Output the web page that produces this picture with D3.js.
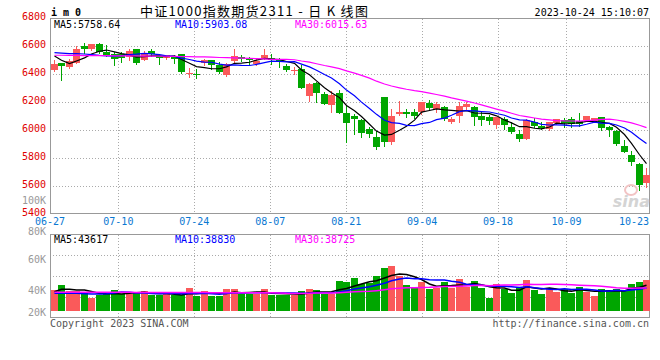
<!DOCTYPE html>
<html><head><meta charset="utf-8">
<script src="https://cdn.jsdelivr.net/npm/d3@7/dist/d3.min.js"></script>
<style>
body{margin:0;background:#fff;}
svg{display:block;}
text{font-family:"DejaVu Sans Mono",monospace;font-size:10px;}
</style></head><body>
<svg id="c" width="660" height="360"></svg>
<script>
// ---------- DATA ----------
const dates = ["06-27","06-28","06-29","06-30",
"07-03","07-04","07-05","07-06","07-07","07-10","07-11","07-12","07-13","07-14",
"07-17","07-18","07-19","07-20","07-21","07-24","07-25","07-26","07-27","07-28","07-31",
"08-01","08-02","08-03","08-04","08-07","08-08","08-09","08-10","08-11",
"08-14","08-15","08-16","08-17","08-18","08-21","08-22","08-23","08-24","08-25",
"08-28","08-29","08-30","08-31","09-01","09-04","09-05","09-06","09-07","09-08",
"09-11","09-12","09-13","09-14","09-15","09-18","09-19","09-20","09-21","09-22",
"09-25","09-26","09-27","09-28","10-09","10-10","10-11","10-12","10-13",
"10-16","10-17","10-18","10-19","10-20","10-23","10-24"];

const open  = [6429,6481,6452,6481,6600,6579,6614,6560,6543,6543,6524,6579,6505,6564,6529,6519,6524,6543,6405,6405,
               6481,6500,6469,6393,6495,6524,6507,6476,6517,6517,6512,6460,6426,6436,6245,6340,6255,6179,6262,6119,
               6100,6071,6007,5950,6236,5910,6112,6131,6126,6131,6190,6150,6162,6055,6100,6167,6164,6100,6095,6036,
               6079,6024,5974,5936,6060,6031,6007,6052,6071,6076,6064,6071,6064,6090,6024,5993,5886,5821,5757,5619];
const high  = [6505,6481,6512,6600,6626,6616,6621,6607,6560,6560,6583,6581,6564,6579,6533,6540,6536,6548,6445,6435,
               6510,6500,6488,6481,6583,6540,6524,6512,6579,6548,6519,6476,6452,6464,6335,6345,6269,6280,6286,6179,
               6114,6079,6024,5993,6238,6150,6207,6148,6148,6202,6214,6202,6171,6090,6202,6202,6174,6131,6107,6092,
               6095,6055,6000,6079,6083,6055,6060,6079,6083,6095,6124,6102,6088,6092,6029,6000,5929,5850,5760,5726];
const low   = [6421,6357,6445,6478,6552,6577,6552,6529,6464,6488,6505,6471,6500,6529,6476,6512,6481,6410,6381,6373,
               6465,6440,6412,6386,6488,6495,6469,6469,6512,6476,6452,6421,6398,6300,6207,6198,6183,6131,6120,5910,
               5971,5948,5948,5860,5888,5902,6107,6095,6083,6112,6150,6131,6071,6052,6060,6150,6036,6036,6040,6017,
               6007,5976,5921,5933,6024,6005,6000,6040,6024,6024,6031,6067,6060,6000,5960,5893,5838,5750,5567,5588];
const close = [6476,6460,6493,6579,6579,6614,6560,6536,6512,6517,6567,6481,6552,6543,6519,6536,6512,6417,6410,6400,
               6500,6469,6417,6476,6529,6507,6500,6495,6540,6505,6488,6429,6429,6302,6333,6267,6186,6250,6124,6052,
               6079,5976,5971,5881,5910,6100,6126,6112,6102,6198,6160,6183,6079,6079,6171,6183,6095,6071,6067,6090,
               6036,5988,5936,6071,6029,6012,6055,6076,6048,6040,6040,6100,6083,6012,6000,5900,5840,5767,5602,5679];
const volume = [35400,43800,33700,33700,32600,22500,26900,30900,35400,28600,
                28600,32000,33700,26900,26900,28600,26900,26900,39300,25800,
                33700,25800,25800,37600,37600,28600,28600,28600,37600,26900,
                26900,26900,26900,33700,37600,35400,28600,28600,50500,48800,
                56100,45500,47700,58900,72400,76300,59500,43800,39300,48800,
                38200,39900,49400,39900,53900,40400,50500,39300,22500,45500,
                38200,30900,39300,52200,35400,28600,39300,32000,37600,31400,
                41000,32600,25800,37600,35400,38200,33700,45500,48800,52200];

// moving-average values at the left edge (window reaches before the first day)
const ma5Head  = [6530,6500,6476,6495];
const ma10Head = [6555,6552,6548,6548,6545,6540,6535,6532,6530];
const ma30Head = [6536,6536,6535,6535,6534,6534,6533,6533,6532,6532,6531,6531,6530,6530,6529,
                  6529,6528,6527,6526,6525,6524,6522,6520,6519,6517,6516,6514,6512,6510];
const vma5Head  = [32600,37000,37000,35500];
const vma10Head = [30000,30000,30000,30000,29500,29000,29000,29500,30500];
const vma30Head = [32000,32000,32000,31900,31900,31900,31800,31800,31800,31700,31700,31600,31600,31500,31500,
                   31500,31400,31400,31300,31300,31300,31200,31200,31200,31100,31100,31100,31000,31000];

const maLegend  = [5758.64, 5903.08, 6015.63];
const vmaLegend = [43617, 38830, 38725];
const priceTicks = [6800,6600,6400,6200,6000,5800,5600,5400];
const volTickLabels = ["100K","80K","60K","40K","20K"];
const volTickValues = [100,80,60,40,20];
const dateTicks = ["06-27","07-10","07-24","08-07","08-21","09-04","09-18","10-09","10-23"];
const title = "中证1000指数期货2311 - 日 K 线图";
const code = "i m 0";
const stamp = "2023-10-24 15:10:07";

// ---------- LAYOUT ----------
const svg = d3.select("#c");
const n = close.length;
const L = 50, R = 650;
const mainTop = 18.5, mainBot = 213.5;
const volTop = 234.5, volBot = 317.5, volBase = 311;
const UP = "#fa5a5a", DN = "#00a600";
const GRID = "#aaa", FRAME = "#999";

const xb = d3.scaleBand().domain(d3.range(n)).range([L, R]).paddingInner(0.2).paddingOuter(0.1);
const bw = Math.round(xb.bandwidth());
const bx = i => Math.round(xb(i));
const cx = i => bx(i) + Math.floor(bw/2) + 0.5;
const gx = d3.scaleLinear().domain([0, n-1]).range([L, R]);
const yp = d3.scaleLinear().domain([5400, 6800]).range([mainBot, mainTop]);
const yv = d3.scaleLinear().domain([0, 130000]).range([volBase, volTop]);
const yvLabel = d3.scaleLinear().domain(volTickValues.slice().reverse()).range([312,290,259,231,200]);

function ma(arr, k, head){ return arr.map((_, i) => i >= k-1 ? d3.mean(arr.slice(i-k+1, i+1)) : head[i]); }

// ---------- GRID ----------
const grid = svg.append("g").attr("stroke", GRID).attr("stroke-dasharray", "1,2").attr("shape-rendering","crispEdges");
priceTicks.filter(p => p !== 6800 && p !== 5400).forEach(p => {
  const y = Math.round(yp(p)) + 0.5;
  grid.append("line").attr("x1", L).attr("x2", R).attr("y1", y).attr("y2", y);
});
[1,2,3].forEach(k => {
  const y = Math.round(volTop + k*(volBot-volTop)/4) + 0.5;
  grid.append("line").attr("x1", L).attr("x2", R).attr("y1", y).attr("y2", y);
});
dateTicks.slice(1, -1).forEach(d => {
  const x = Math.round(gx(dates.indexOf(d))) + 0.5;
  grid.append("line").attr("x1", x).attr("x2", x).attr("y1", mainTop).attr("y2", mainBot);
  grid.append("line").attr("x1", x).attr("x2", x).attr("y1", volTop).attr("y2", volBot);
});

// ---------- FRAMES ----------
const fr = svg.append("g").attr("stroke", FRAME).attr("fill","none").attr("shape-rendering","crispEdges");
fr.append("rect").attr("x", L+0.5).attr("y", mainTop).attr("width", R-L-1).attr("height", mainBot-mainTop);
fr.append("rect").attr("x", L+0.5).attr("y", volTop).attr("width", R-L-1).attr("height", volBot-volTop);

// ---------- WATERMARK ----------
svg.append("ellipse").attr("cx", 631).attr("cy", 190).attr("rx", 6).attr("ry", 5)
  .attr("fill","none").attr("stroke","#f2c4c4").attr("stroke-width",2);
svg.append("text").attr("x", 650).attr("y", 207).attr("text-anchor","end")
  .style("font-family","DejaVu Sans").style("font-size","16px").style("font-style","italic").style("font-weight","bold")
  .attr("fill","#d4d4d4").text("sina");

// ---------- CANDLES ----------
const cg = svg.append("g").attr("shape-rendering","crispEdges");
d3.range(n).forEach(i => {
  const up = close[i] >= open[i];
  const col = up ? UP : DN;
  const x = cx(i);
  cg.append("line").attr("x1", x).attr("x2", x)
    .attr("y1", Math.round(yp(high[i]))).attr("y2", Math.round(yp(low[i]))+1).attr("stroke", col);
  const y1 = Math.round(yp(Math.max(open[i], close[i])));
  const y2 = Math.round(yp(Math.min(open[i], close[i])));
  cg.append("rect").attr("x", bx(i)).attr("width", bw + 1)
    .attr("y", y1).attr("height", Math.max(1, y2 - y1)).attr("fill", col);
});

// ---------- VOLUME BARS ----------
const vg = svg.append("g").attr("shape-rendering","crispEdges");
d3.range(n).forEach(i => {
  const col = close[i] >= open[i] ? UP : DN;
  const y = Math.round(yv(volume[i]));
  vg.append("rect").attr("x", bx(i)).attr("width", bw + 1)
    .attr("y", y).attr("height", volBase - y).attr("fill", col);
});

// ---------- MA LINES ----------
const lineP = d3.line().x((d,i) => cx(i)).y(d => yp(d));
const lineV = d3.line().x((d,i) => cx(i)).y(d => yv(d));
const maCols = ["#000","#0000ff","#ff00ff"];
[[5,ma5Head],[10,ma10Head],[30,ma30Head]].forEach(([k,h],j) => {
  svg.append("path").attr("d", lineP(ma(close,k,h))).attr("fill","none")
    .attr("stroke", maCols[j]).attr("stroke-width", 1.2);
});
[[5,vma5Head],[10,vma10Head],[30,vma30Head]].forEach(([k,h],j) => {
  svg.append("path").attr("d", lineV(ma(volume,k,h))).attr("fill","none")
    .attr("stroke", maCols[j]).attr("stroke-width", 1.5);
});

// ---------- LEGENDS ----------
const legX = [54, 175, 295];
["MA5:","MA10:","MA30:"].forEach((t,j) => {
  svg.append("text").attr("x", legX[j]).attr("y", 27.5).attr("fill", maCols[j]).text(t + maLegend[j].toFixed(2));
  svg.append("text").attr("x", legX[j]).attr("y", 243).attr("fill", maCols[j]).text(t + vmaLegend[j]);
});

// ---------- AXIS LABELS ----------
priceTicks.forEach(p => {
  let y = yp(p) + 2;
  if (p === 6800) y = 19.5;
  svg.append("text").attr("x", 46).attr("y", y).attr("text-anchor","end").attr("fill","#e00000").text(p);
});
volTickLabels.forEach((t,j) => {
  svg.append("text").attr("x", 46).attr("y", yvLabel(volTickValues[j]) + 3.5)
    .attr("text-anchor","end").attr("fill","#999").text(t);
});
dateTicks.forEach(d => {
  const x = gx(dates.indexOf(d));
  const t = svg.append("text").attr("y", 224.5).attr("fill","#0a78d2");
  if (x + 15 > R) t.attr("x", R - 1).attr("text-anchor","end");
  else t.attr("x", x).attr("text-anchor","middle");
  t.text(d);
});

// ---------- HEADER / FOOTER ----------
svg.append("text").attr("x", 51).attr("y", 15.5).style("font-weight","bold").attr("fill","#000").text(code);
svg.append("text").attr("x", 140).attr("y", 16).style("font-family","'Noto Sans CJK SC',sans-serif")
  .style("font-size","13px").style("letter-spacing","1.3px").attr("fill","#000").text(title);
svg.append("text").attr("x", 649).attr("y", 15.5).attr("text-anchor","end").attr("fill","#000").text(stamp);
svg.append("text").attr("x", 50).attr("y", 327).attr("fill","#555").text("Copyright 2023 SINA.COM");
svg.append("text").attr("x", 649).attr("y", 327).attr("text-anchor","end").attr("fill","#555").text("http://finance.sina.com.cn");
</script>
</body></html>
